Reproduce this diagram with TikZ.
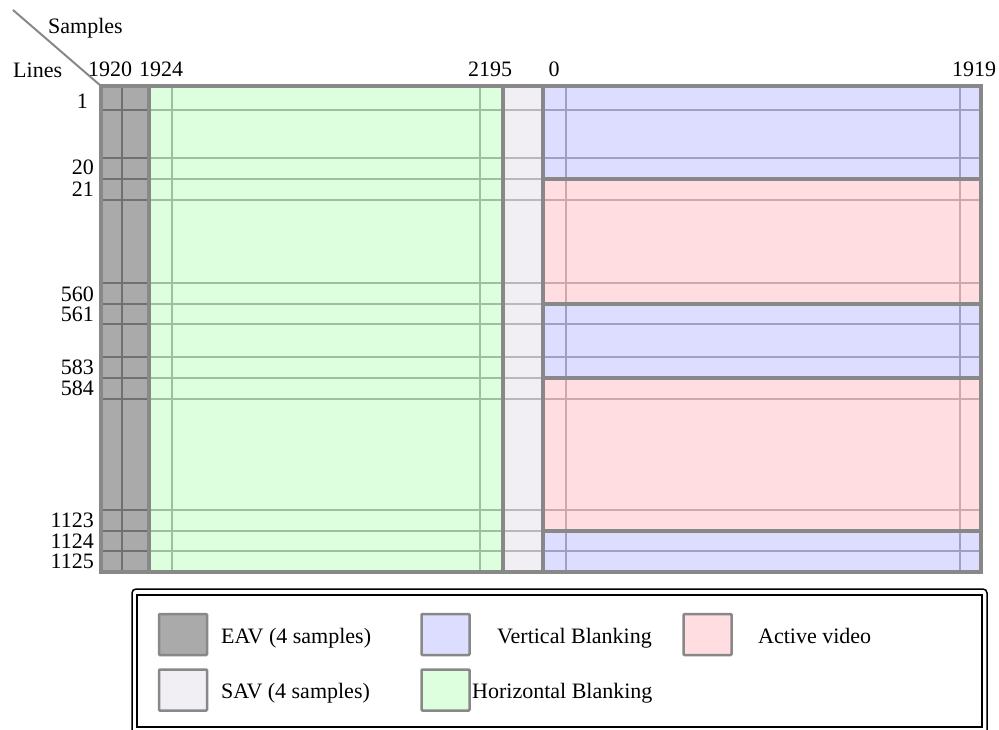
\documentclass[tikz,border=0pt]{standalone}
\usepackage{fontspec}
\setmainfont{Liberation Serif}
\usetikzlibrary{positioning}
\definecolor{eavfill}{RGB}{170,170,170}
\definecolor{eavline}{RGB}{112,112,112}
\definecolor{hbfill}{RGB}{221,255,221}
\definecolor{hbline}{RGB}{160,190,160}
\definecolor{savfill}{RGB}{241,239,243}
\definecolor{savline}{RGB}{186,184,189}
\definecolor{vbfill}{RGB}{221,221,255}
\definecolor{vbline}{RGB}{160,160,196}
\definecolor{avfill}{RGB}{255,221,224}
\definecolor{avline}{RGB}{208,168,172}
\definecolor{framegray}{RGB}{136,136,136}

\begin{document}
\begin{tikzpicture}[x=1pt, y=-1pt,
  gridline/.style={line width=2.5pt},
  bound/.style={draw=framegray, line width=3.2pt},
  lbl/.style={font=\fontsize{22}{26}\selectfont, inner sep=0pt},
  swatch/.style={draw=framegray, line width=2.5pt, rounded corners=1pt, minimum width=48pt, minimum height=41pt, inner sep=0pt}
]
  \useasboundingbox (0,0) rectangle (999,729);

  % Column fills
  \fill[eavfill] (101,86) rectangle (149,572);
  \fill[hbfill] (149,86) rectangle (503,572);
  \fill[savfill] (503,86) rectangle (543,572);

  % Active area: vertical and active bands
  \foreach \ya/\yb/\c in {86/179/vb, 179/304/av, 304/378/vb, 378/531/av, 531/572/vb} {
    \fill[\c fill] (543,\ya) rectangle (981,\yb);
    \draw[gridline, \c line] (566,\ya) -- (566,\yb) (960,\ya) -- (960,\yb);
  }

  % Line rows
  \foreach \y in {110,158,179,200,283,304,324,357,378,399,510,531,551} {
    \draw[gridline, eavline] (101,\y) -- (149,\y);
    \draw[gridline, hbline] (149,\y) -- (503,\y);
    \draw[gridline, savline] (503,\y) -- (543,\y);
  }
  \foreach \y/\c in {110/vb, 158/vb, 200/av, 283/av, 324/vb, 357/vb, 399/av, 510/av, 551/vb}
    \draw[gridline, \c line] (543,\y) -- (981,\y);

  % Sample columns
  \draw[gridline, eavline] (122,86) -- (122,572);
  \draw[gridline, hbline] (172,86) -- (172,572) (480,86) -- (480,572);

  % Borders
  \draw[bound] (101,86) rectangle (981,572);
  \draw[bound] (149,86) -- (149,572) (503,86) -- (503,572) (543,86) -- (543,572);
  \foreach \y in {179,304,378,531}
    \draw[bound] (543,\y) -- (981,\y);

  % Corner header
  \coordinate (corner) at (101,86);
  \coordinate (diagtop) at (13,10);
  \draw[framegray, line width=2pt] (diagtop) -- (corner);
  \node[lbl, anchor=base west] (samples) at (48,33) {Samples};
  \node[lbl, anchor=base west] (lines) at (13,77) {Lines};

  % Sample numbers
  \node[lbl, anchor=base] (s1920) at (110,76) {1920};
  \node[lbl, anchor=base] (s1924) at (161,76) {1924};
  \node[lbl, anchor=base] (s2195) at (490,76) {2195};
  \node[lbl, anchor=base] (s0) at (554,76) {0};
  \node[lbl, anchor=base] (s1919) at (974,76) {1919};

  % Line numbers
  \node[lbl, anchor=base east] (l1) at (88,108) {1};
  \foreach \n/\y in {20/174, 21/196, 560/301, 561/321, 583/374, 584/395, 1123/527, 1124/548, 1125/568}
    \node[lbl, anchor=base east] (l\n) at (94,\y) {\n};

  % Legend
  \draw[line width=1.5pt, rounded corners=4pt] (132,589) rectangle (987,736);
  \draw[line width=1.5pt] (137,595) rectangle (982,727);
  \node[swatch, fill=eavfill] (eavkey) at (183,634.5) {};
  \node[swatch, fill=savfill] (savkey) at (183,690) {};
  \node[swatch, fill=vbfill] (vbkey) at (445.5,634.5) {};
  \node[swatch, fill=hbfill] (hbkey) at (445.5,690) {};
  \node[swatch, fill=avfill] (avkey) at (707.5,634.5) {};
  \node[lbl, anchor=base west] (eavtxt) at (221,643) {EAV (4 samples)};
  \node[lbl, anchor=base west] (savtxt) at (221,698) {SAV (4 samples)};
  \node[lbl, anchor=base west] (vbtxt) at (497,643) {Vertical Blanking};
  \node[lbl, anchor=base west] (hbtxt) at (472,698) {Horizontal Blanking};
  \node[lbl, anchor=base west] (avtxt) at (758,643) {Active video};
\end{tikzpicture}
\end{document}
